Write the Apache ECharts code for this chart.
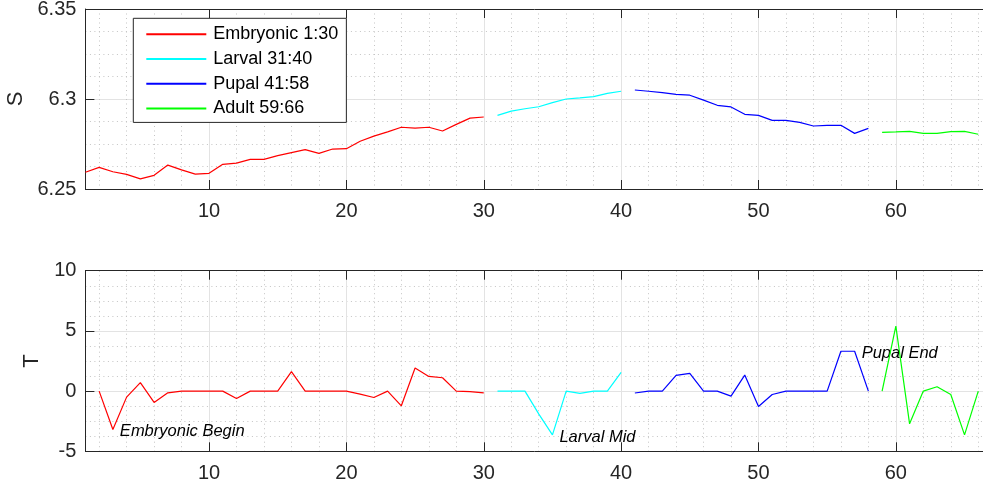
<!DOCTYPE html>
<html>
<head>
<meta charset="utf-8">
<script src="https://cdn.jsdelivr.net/npm/echarts@6/dist/echarts.min.js"></script>
<style>
html,body{margin:0;padding:0;background:#fff;}
#chart{width:983px;height:487px;}
</style>
</head>
<body>
<div id="chart"></div>
<script>
// ---------- data ----------
const seriesNames = ['Embryonic 1:30', 'Larval 31:40', 'Pupal 41:58', 'Adult 59:66'];
const seriesColors = ['#ff0000', '#00ffff', '#0000ff', '#00ff00'];

// S (top panel)
const embStartS = 1, larStartS = 31, pupStartS = 41, aduStartS = 59;
const embS = [6.2593,6.2620,6.2596,6.2581,6.2556,6.2576,6.2633,6.2606,6.2583,6.2587,
              6.2637,6.2644,6.2665,6.2665,6.2685,6.2702,6.2719,6.2698,6.2722,6.2724,
              6.2765,6.2794,6.2817,6.2843,6.2838,6.2843,6.2822,6.2859,6.2894,6.2900];
const larS = [6.2909,6.2933,6.2946,6.2957,6.2980,6.3000,6.3006,6.3013,6.3031,6.3043];
const pupS = [6.3050,6.3043,6.3035,6.3026,6.3021,6.2994,6.2965,6.2956,6.2915,6.2909,
              6.2881,6.2881,6.2870,6.2850,6.2854,6.2854,6.2809,6.2837];
const aduS = [6.2815,6.2817,6.2820,6.2809,6.2809,6.2819,6.2820,6.2804];

// T (bottom panel)
const embStartT = 2, larStartT = 31, pupStartT = 41, aduStartT = 59;
const embT = [0,-3.19,-0.5,0.7,-0.94,-0.14,0,0,0,0,-0.61,0,0,0,1.61,0,0,0,0,-0.25,
              -0.53,0,-1.22,1.92,1.22,1.11,0,-0.05,-0.14];
const larT = [0,0,0,-1.89,-3.64,0,-0.19,0,0,1.56];
const pupT = [-0.16,0,0,1.31,1.47,0,0,-0.42,1.33,-1.28,-0.28,0,0,0,0,3.31,3.31,0];
const aduT = [0,5.39,-2.72,0,0.36,-0.28,-3.64,0];

// tick labels
const xTickValues = [10, 20, 30, 40, 50, 60];
const sTicks = [6.25, 6.3, 6.35];
const tTicks = [-5, 0, 5, 10];

// annotations placed on the T series
const annEmb = {x: 3, text: 'Embryonic Begin'};
const annLar = {x: 35, text: 'Larval Mid'};
const annPup = {x: 57, text: 'Pupal End'};

// ---------- helpers ----------
const toPairs = (start, arr) => arr.map((v, i) => [start + i, v]);
const valAt = (start, arr, x) => arr[x - start];

const FONT = '"Liberation Sans", Arial, Helvetica, sans-serif';
const AX = '#262626';
const MAJOR = '#e3e3e3';
const MINOR = '#c4c4c4';
const T = 'rgba(0,0,0,0)';

const minorColors = [T, MINOR, T, MINOR, T, MINOR, T, MINOR, T, T];
const majorColors = [T, T, T, T, T, T, T, T, T, MAJOR];

const grids = [
  {left: 85.4, top: 9, width: 906.6, height: 180, containLabel: false, outerBoundsMode: 'none'},
  {left: 85.4, top: 270.7, width: 906.6, height: 180.6, containLabel: false, outerBoundsMode: 'none'}
];

function xAxesFor(gi) {
  const base = {type: 'value', gridIndex: gi, min: 1, max: 67, interval: 1};
  return [
    Object.assign({}, base, {
      position: 'bottom',
      axisLine: {show: true, onZero: false, lineStyle: {color: AX, width: 1}},
      axisTick: {show: true, inside: true, length: 9, customValues: xTickValues, lineStyle: {color: AX}},
      axisLabel: {show: true, customValues: xTickValues, color: AX, fontSize: 20, fontFamily: FONT, margin: 12},
      splitLine: {show: false}
    }),
    Object.assign({}, base, {
      axisLine: {show: false}, axisTick: {show: false}, axisLabel: {show: false},
      splitLine: {show: true, lineStyle: {color: minorColors, width: 1, type: [1, 3.5]}}
    }),
    Object.assign({}, base, {
      axisLine: {show: false}, axisTick: {show: false}, axisLabel: {show: false},
      splitLine: {show: true, lineStyle: {color: majorColors, width: 1}}
    }),
    Object.assign({}, base, {
      position: 'top',
      axisLine: {show: true, onZero: false, lineStyle: {color: AX, width: 1}},
      axisTick: {show: true, inside: true, length: 9, customValues: xTickValues, lineStyle: {color: AX}},
      axisLabel: {show: false},
      splitLine: {show: false}
    })
  ];
}

function yAxesFor(gi, min, max, interval, name, nameGap, ticks) {
  return [
    {
      type: 'value', gridIndex: gi, min: min, max: max, interval: interval, position: 'left',
      name: name, nameLocation: 'middle', nameGap: nameGap, nameRotate: 90,
      nameTextStyle: {color: AX, fontSize: 22, fontFamily: FONT},
      axisLine: {show: true, onZero: false, lineStyle: {color: AX, width: 1}},
      axisTick: {show: true, inside: true, length: 9, lineStyle: {color: AX}},
      axisLabel: {show: true, color: AX, fontSize: 20, fontFamily: FONT, margin: 9,
                  customValues: ticks},
      splitLine: {show: true, lineStyle: {color: MAJOR, width: 1}},
      minorTick: {show: false, splitNumber: 4},
      minorSplitLine: {show: true, lineStyle: {color: MINOR, width: 1, type: [1, 3.5]}}
    },
    {
      type: 'value', gridIndex: gi, min: min, max: max, interval: interval, position: 'right',
      axisLine: {show: true, onZero: false, lineStyle: {color: AX, width: 1}},
      axisTick: {show: true, inside: true, length: 9, lineStyle: {color: AX}},
      axisLabel: {show: false},
      splitLine: {show: false}
    }
  ];
}

function lineSeries(name, color, data, xi, yi, ann) {
  const s = {
    name: name, type: 'line', data: data, xAxisIndex: xi, yAxisIndex: yi,
    symbol: 'none', showSymbol: false, smooth: false, animation: false,
    lineStyle: {color: color, width: 1.2}, itemStyle: {color: color}, z: 5
  };
  if (ann) {
    s.markPoint = {
      symbol: 'circle', symbolSize: 0, animation: false,
      data: [{coord: ann.coord, value: ann.text}],
      label: {show: true, position: 'right', distance: 7, offset: [0, 2], formatter: ann.text,
              color: '#000', fontSize: 16.5, fontStyle: 'italic', fontFamily: FONT}
    };
  }
  return s;
}

const option = {
  animation: false,
  backgroundColor: '#fff',
  grid: grids,
  xAxis: xAxesFor(0).concat(xAxesFor(1)),
  yAxis: yAxesFor(0, 6.25, 6.35, 0.05, 'S', 58, sTicks).concat(yAxesFor(1, -5, 10, 5, 'T', 36, tTicks)),
  legend: {
    show: true, orient: 'vertical', left: 133.3, top: 18.3,
    data: seriesNames,
    itemWidth: 60, itemHeight: 14, itemGap: 6.7,
    padding: [7, 8, 5, 12],
    backgroundColor: '#fff', borderColor: AX, borderWidth: 1, borderRadius: 0,
    itemStyle: {opacity: 0},
    textStyle: {color: '#000', fontSize: 18, fontFamily: FONT, lineHeight: 18, padding: [0, 0, 0, 2]},
    selectedMode: false
  },
  series: [
    lineSeries(seriesNames[0], seriesColors[0], toPairs(embStartS, embS), 0, 0),
    lineSeries(seriesNames[1], seriesColors[1], toPairs(larStartS, larS), 0, 0),
    lineSeries(seriesNames[2], seriesColors[2], toPairs(pupStartS, pupS), 0, 0),
    lineSeries(seriesNames[3], seriesColors[3], toPairs(aduStartS, aduS), 0, 0),
    lineSeries(seriesNames[0], seriesColors[0], toPairs(embStartT, embT), 4, 2,
      {coord: [annEmb.x, valAt(embStartT, embT, annEmb.x)], text: annEmb.text}),
    lineSeries(seriesNames[1], seriesColors[1], toPairs(larStartT, larT), 4, 2,
      {coord: [annLar.x, valAt(larStartT, larT, annLar.x)], text: annLar.text}),
    lineSeries(seriesNames[2], seriesColors[2], toPairs(pupStartT, pupT), 4, 2,
      {coord: [annPup.x, valAt(pupStartT, pupT, annPup.x)], text: annPup.text}),
    lineSeries(seriesNames[3], seriesColors[3], toPairs(aduStartT, aduT), 4, 2)
  ]
};

const chart = echarts.init(document.getElementById('chart'), null, {renderer: 'canvas'});
chart.setOption(option);
</script>
</body>
</html>
